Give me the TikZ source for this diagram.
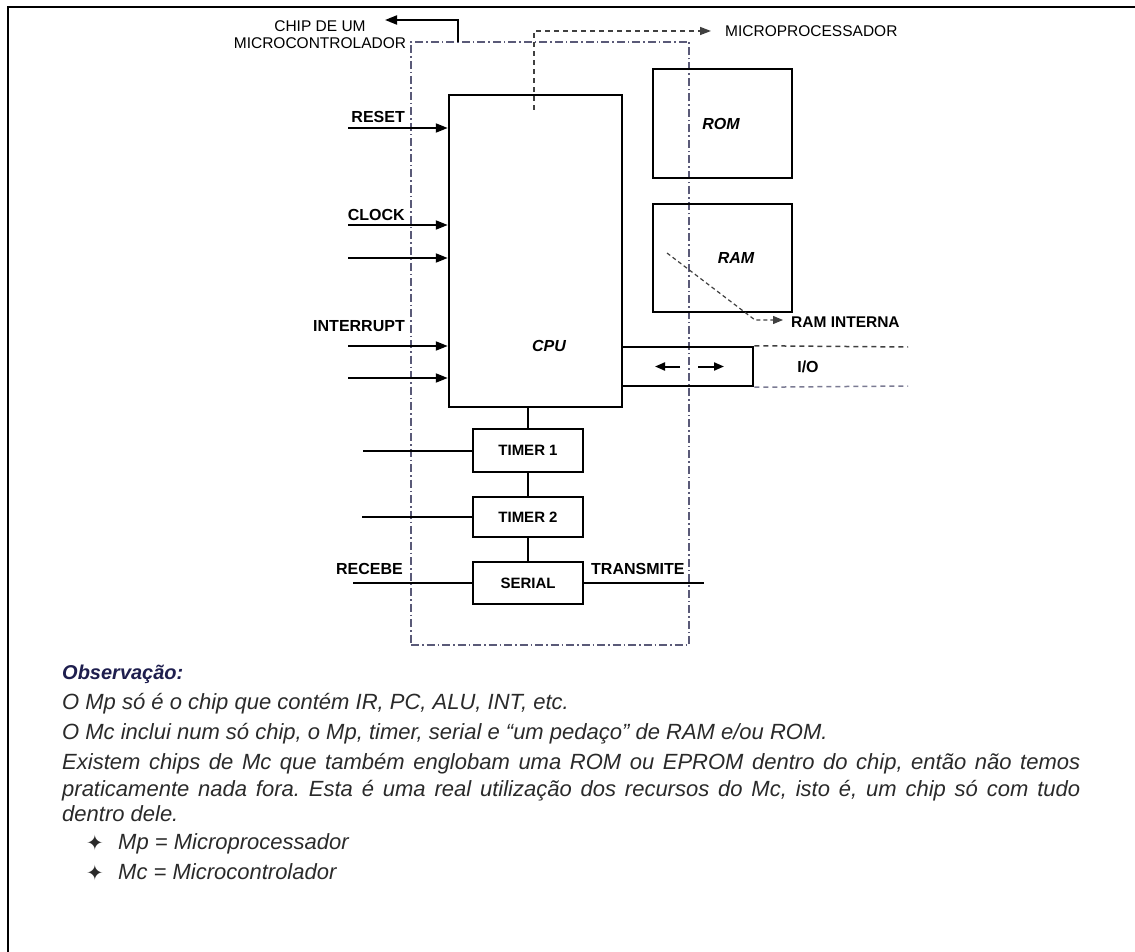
\documentclass[tikz,border=0pt]{standalone}
\usepackage{fontspec}
\setmainfont{Liberation Sans}
\newfontfamily\starfont{DejaVu Sans}
\usetikzlibrary{positioning,arrows.meta,calc}
\definecolor{chipgray}{HTML}{5A5A78}
\definecolor{obsgray}{HTML}{2A2A2A}
\definecolor{obsnavy}{HTML}{1E1E4E}
\frenchspacing

\begin{document}
\begin{tikzpicture}[x=1pt, y=-1pt,
    box/.style={draw=black, line width=2.5pt, inner sep=0pt},
    unit/.style={box, minimum width=110pt, font=\fontsize{15}{17}\selectfont\bfseries},
    sig/.style={line width=2pt, -{Triangle[length=12pt,width=9pt]}},
    wire/.style={line width=2pt},
    dashline/.style={line width=1.5pt, draw=black!75, dash pattern=on 5pt off 4pt},
    tag/.style={inner sep=0pt, font=\fontsize{16}{18}\selectfont\bfseries},
    memtag/.style={inner sep=0pt, font=\fontsize{16}{18}\selectfont\bfseries\itshape},
    plain/.style={inner sep=0pt, font=\fontsize{15.5}{17}\selectfont},
    obs/.style={inner sep=0pt, anchor=base west, text=obsgray, font=\fontsize{22}{26}\selectfont\itshape}]

  \useasboundingbox (0,0) rectangle (1135,952);
  % page frame, top and left edge
  \draw[line width=2pt] (8,952) -- (8,7) -- (1135,7);

  % chip outline
  \node[draw=chipgray, line width=1.2pt, dash pattern=on 8pt off 3pt on 1.5pt off 3pt,
        minimum width=278pt, minimum height=603pt] (chip) at (550,343.5) {};

  % cpu and memories
  \node[box, minimum width=173pt, minimum height=312pt] (cpu) at (535.5,251) {};
  \node[memtag] (cpulbl) at (549,346) {CPU};
  \node[box, minimum width=139pt, minimum height=109pt] (rom) at (722.5,123.5) {};
  \node[memtag] (romlbl) at (721,124) {ROM};
  \node[box, minimum width=139pt, minimum height=108pt] (ram) at (722.5,258) {};
  \node[memtag] (ramlbl) at (736,258) {RAM};
  \node[box, minimum width=131pt, minimum height=39pt] (io) at (687.5,366.5) {};
  \node[tag] (iolbl) at (808,367) {I/O};

  % inputs to the cpu
  \foreach \nm/\yy in {rst/128, clk/225, clkb/258, intr/346, intrb/378} {
    \coordinate (\nm) at (348,\yy);
    \draw[sig] (\nm) -- (\nm -| cpu.west);
  }
  \node[tag, anchor=base east] (rstlbl) at (405,123) {RESET};
  \node[tag, anchor=base east] (clklbl) at (405,221) {CLOCK};
  \node[tag, anchor=base east] (intrlbl) at (405,331) {INTERRUPT};

  % I/O port
  \draw[sig, -{Triangle[length=10pt,width=8pt]}] ([xshift=-7.5pt]io.center) -- ([xshift=-32.5pt]io.center);
  \draw[sig, -{Triangle[length=10pt,width=8pt]}] ([xshift=10.5pt]io.center) -- ([xshift=36.5pt]io.center);
  \coordinate (iotop) at (908,347);
  \coordinate (iobot) at (908,386);
  \draw[dashline] (io.north east) -- (iotop);
  \draw[dashline, draw=chipgray!80] (io.south east) -- (iobot);

  % internal ram
  \node[tag, anchor=west, font=\fontsize{15.5}{17}\selectfont\bfseries] (ramint) at (791,322) {RAM INTERNA};
  \coordinate (ramcell) at (667,253);
  \coordinate (ramknee) at (755,320);
  \draw[dashline, line width=1.2pt, dash pattern=on 4pt off 3pt, -{Triangle[length=10pt,width=8pt]}, shorten >=8pt]
    (ramcell) -- (ramknee) -- (ramknee -| ramint.west);

  % timers and serial
  \node[unit, minimum height=43pt] (tmr1) at (528,450.5) {TIMER 1};
  \node[unit, minimum height=40pt] (tmr2) at (528,517) {TIMER 2};
  \node[unit, minimum height=42pt] (serial) at (528,583) {SERIAL};
  \draw[wire] (cpu.south -| tmr1.north) -- (tmr1.north);
  \draw[wire] (tmr1) -- (tmr2);
  \draw[wire] (tmr2) -- (serial);
  \coordinate (t1in) at (363,450.5);
  \coordinate (t2in) at (362,517);
  \coordinate (rxin) at (353,583);
  \coordinate (txout) at (704,583);
  \draw[wire] (t1in) -- (tmr1.west);
  \draw[wire] (t2in) -- (tmr2.west);
  \draw[wire] (rxin) -- (serial.west);
  \draw[wire] (serial.east) -- (txout);
  \node[tag, anchor=base east] (rxlbl) at (403,574) {RECEBE};
  \node[tag, anchor=base west] (txlbl) at (591,574) {TRANSMITE};

  % top labels
  \node[plain, align=center] (chiplbl) at (320,35) {CHIP DE UM\\MICROCONTROLADOR};
  \coordinate (chipout) at (458,42);
  \coordinate (chiptip) at (385,20);
  \draw[sig] (chipout) |- (chiptip);
  \node[plain, anchor=west] (mplbl) at (725,31) {MICROPROCESSADOR};
  \coordinate (mpin) at (534,110);
  \draw[dashline, -{Triangle[length=11pt,width=8pt]}, shorten >=14pt] (mpin) |- (mplbl.west);

  % notes
  \node[obs, text=obsnavy, font=\fontsize{20}{24}\selectfont\bfseries\itshape] (obshead) at (62,679) {Observação:};
  \node[obs] (obs1) at (62,709) {O Mp só é o chip que contém IR, PC, ALU, INT, etc.};
  \node[obs] (obs2) at (62,739) {O Mc inclui num só chip, o Mp, timer, serial e “um pedaço” de RAM e/ou ROM.};
  \node[obs] (obs3a) at (62,769) {\makebox[1018pt][s]{Existem chips de Mc que também englobam uma ROM ou EPROM dentro do chip, então não temos}};
  \node[obs] (obs3b) at (62,796) {\makebox[1018pt][s]{praticamente nada fora. Esta é uma real utilização dos recursos do Mc, isto é, um chip só com tudo}};
  \node[obs] (obs3c) at (62,821) {dentro dele.};
  \node[obs, font=\fontsize{21}{24}\selectfont\starfont] (star1) at (86,850) {✦};
  \node[obs] (defmp) at (118,849) {Mp = Microprocessador};
  \node[obs, font=\fontsize{21}{24}\selectfont\starfont] (star2) at (86,880) {✦};
  \node[obs] (defmc) at (118,879) {Mc = Microcontrolador};
\end{tikzpicture}
\end{document}
